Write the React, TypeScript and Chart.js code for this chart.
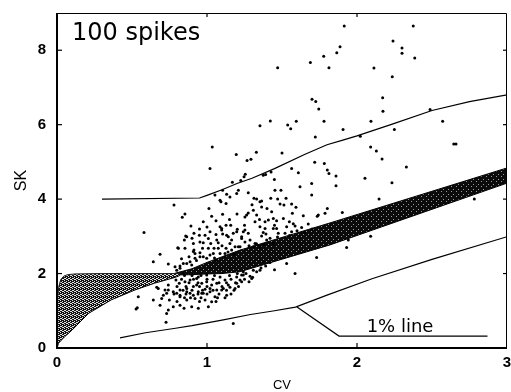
import React, { useEffect, useRef } from "react";
import { Chart, registerables } from "chart.js";
Chart.register(...registerables);

const xTickValues = [0, 1, 2, 3];
const yTickValues = [0, 2, 4, 6, 8];
const panelLabel = "100 spikes";
const lineLabel = "1% line";
const xTitle = "CV";
const yTitle = "SK";

// CV, SK of each simulated spike train
const spikePoints: [number, number][] = [
  [1.915,8.65],[2.375,8.65],[2.24,8.25],[2.30,8.06],[2.30,7.92],[2.385,7.79],[1.887,8.09],[1.865,7.93],[1.778,7.84],[1.689,7.67],
  [1.813,7.53],[1.471,7.53],[2.113,7.52],[2.235,7.29],[2.171,6.72],[1.70,6.68],[1.725,6.62],[1.745,6.42],[2.173,6.36],[2.487,6.41],
  [2.571,6.09],[1.422,6.10],[1.353,5.97],[1.538,5.99],[1.558,5.89],[1.595,6.09],[1.78,6.09],[2.093,6.09],[1.907,5.87],[1.722,5.67],
  [2.022,5.69],[2.249,5.87],[2.645,5.48],[2.66,5.48],[2.091,5.40],[2.129,5.29],[2.167,5.08],[2.329,4.86],[2.233,4.44],[2.053,4.56],
  [1.50,5.24],[1.329,5.26],[1.293,5.07],[1.718,4.99],[1.782,4.96],[1.802,4.78],[1.813,4.69],[1.86,4.62],[1.86,4.36],[1.564,4.82],
  [1.609,4.71],[1.698,4.42],[1.698,4.11],[1.62,4.33],[1.449,4.53],[1.375,4.64],[1.391,4.66],[1.427,4.73],[1.453,4.24],[1.493,4.24],
  [1.313,4.02],[1.425,4.02],[1.471,4.0],[1.527,4.02],[2.147,4.0],[2.782,4.0],
  [1.035,5.40],[1.02,4.82],[1.195,5.20],[1.267,5.04],[1.255,4.67],[1.247,4.60],[1.225,4.50],[1.169,4.45],[1.209,4.24],[1.275,4.17],
  [1.198,4.15],[1.131,4.13],[1.053,4.11],[1.331,4.0],[1.364,3.95],[1.104,4.24],[1.087,3.97],[1.153,4.06],
  [0.78,3.84],[1.013,3.75],[1.093,3.93],[1.127,3.88],[0.853,3.60],[0.835,3.51],[1.031,3.54],[1.104,3.59],[1.06,3.42],[0.975,3.39],
  [1.127,3.30],[1.087,3.26],[1.158,3.30],[0.893,3.28],[1.098,3.17],[0.58,3.10],[0.913,3.08],[0.858,3.01],[0.949,3.03],[1.009,2.94],
  [0.975,2.83],[0.909,2.81],[0.849,2.90],[0.805,2.69],[0.853,2.68],[0.913,2.63],[0.953,2.56],[0.92,2.54],[1.025,2.81],[1.047,2.68],
  [1.075,2.83],[1.104,3.06],[1.142,2.99],[1.175,3.08],[1.202,3.19],[1.153,2.81],[1.187,2.72],[1.127,2.68],[0.687,2.52],[0.642,2.32],
  [0.742,2.26],[0.82,2.20],[0.865,2.27],[0.887,2.32],[0.92,2.41],[0.975,2.45],[1.02,2.50],[1.087,2.54],[0.798,2.09],[0.842,2.0],
  [0.793,1.83],[0.815,1.74],[0.853,1.78],[0.887,1.83],[0.931,1.87],[0.965,1.74],[0.998,1.78],[1.031,1.69],[0.909,1.65],[0.865,1.60],
  [0.82,1.56],[0.775,1.51],[0.72,1.56],[0.665,1.63],[0.942,1.51],[0.987,1.58],[1.065,1.56],[1.109,1.60],[1.153,1.63],[1.198,1.74],
  [1.202,2.00],[1.087,1.91],[1.12,1.83],
  [0.542,1.38],[0.535,1.08],[0.527,1.05],[0.642,1.29],[0.698,1.33],[0.687,1.15],[0.731,1.47],[0.749,1.29],[0.742,1.02],[0.731,0.93],
  [0.727,0.69],[0.775,1.11],[0.82,1.15],[0.847,1.07],[0.898,1.11],[0.942,1.07],[1.009,1.11],[0.865,1.29],[0.92,1.33],[0.987,1.29],
  [1.031,1.24],[0.82,1.38],[0.798,1.47],[0.887,1.47],[0.965,1.47],[1.02,1.51],[0.675,1.60],[1.175,0.66],
  [1.353,3.93],[1.364,3.79],[1.487,3.87],[1.513,3.84],[1.564,3.87],[1.593,3.78],[1.802,3.75],[1.787,3.62],[1.735,3.54],[1.642,3.55],
  [1.569,3.62],[1.309,3.70],[1.264,3.57],[1.253,3.52],[1.275,3.63],[1.331,3.57],[1.431,3.66],[1.442,3.48],[1.409,3.44],[1.387,3.39],
  [1.464,3.42],[1.32,3.39],[1.509,3.48],[1.549,3.39],[1.575,3.34],[1.587,3.28],[1.531,3.26],[1.675,3.33],[1.631,3.24],[1.442,3.21],
  [1.464,3.21],[1.387,3.21],[1.353,3.26],[1.242,3.12],[1.275,3.08],[1.375,3.10],[1.393,3.06],[1.364,3.01],[1.475,3.08],[1.52,3.08],
  [1.564,3.12],[1.287,2.90],[1.32,2.81],[1.253,2.85],[1.398,2.90],[1.442,2.81],[1.353,2.72],[1.309,2.72],[1.22,2.72],[1.231,2.99],
  [1.731,2.43],[1.531,2.27],[1.587,2.0],[1.375,2.32],[1.309,2.09],[1.331,2.05],[1.242,2.05],[1.231,1.96],[1.298,1.87],[1.22,1.83],
  [1.902,3.64],[2.091,3.00],[1.942,2.90],[1.931,2.70],[1.742,3.57],[1.391,2.20],[1.353,2.09],[1.304,1.90],[1.287,1.93],
  [0.865,2.99],[0.809,2.68],[0.909,2.59],[0.953,2.85],[0.987,3.03],[1.02,3.12],[1.065,2.90],[1.098,3.21],[1.131,3.03],[1.164,2.90],
  [1.198,3.12],[1.231,2.94],[1.253,3.17],[1.009,2.68],[1.042,2.54],[1.075,2.68],[1.12,2.54],[1.164,2.63],[1.209,2.72],[0.953,2.45],
  [0.998,2.41],[0.842,2.27],[0.787,2.18],[0.82,2.14],[0.898,2.23],[0.931,1.69],[1.02,1.60],[1.065,1.74],[1.098,1.56],[1.142,1.69],
  [1.187,1.60],[1.231,1.78],[0.865,1.51],[0.909,1.42],[0.975,1.47],[1.053,1.38],[1.131,1.42],[0.82,1.42],[0.742,1.56],[0.709,1.42],
  [0.742,1.69],[0.942,1.91],[0.998,1.96],[1.198,1.91],[1.242,1.96],
  [0.85,1.95],[0.9,1.95],[0.96,1.95],[1.05,1.95],[1.15,1.95],[0.83,1.85],[0.91,1.85],[1.0,1.85],[1.04,1.85],[1.16,1.85],
  [1.25,1.85],[0.88,1.75],[0.94,1.75],[1.08,1.75],[1.13,1.75],[1.19,1.75],[0.8,1.65],[0.86,1.65],[0.95,1.65],[1.0,1.65],
  [1.1,1.65],[1.21,1.65],[0.84,1.55],[0.9,1.55],[0.97,1.55],[1.04,1.55],[1.13,1.55],[1.18,1.55],[0.78,1.45],[0.86,1.45],
  [0.94,1.45],[1.0,1.45],[1.08,1.45],[1.16,1.45],[0.85,1.35],[0.89,1.35],[0.96,1.35],[1.07,1.35],[1.12,1.35],[0.8,1.25],
  [0.95,1.25],[1.06,1.25],
  [1.05,2.42],[1.12,2.45],[1.18,2.52],[1.28,2.75],[1.33,2.8],[1.38,2.78],[1.42,2.95],[1.47,2.98],[1.55,3.02],[1.6,3.15],
  [1.65,3.1],[1.7,3.2],[1.45,3.3],[1.35,3.45],[1.25,3.3],[1.15,3.45],[1.2,3.6],[1.3,3.85],[1.4,3.75],[1.0,3.25],
  [0.95,3.2],[1.06,3.05],[0.9,2.95],[0.97,2.68],[1.1,2.75],[1.14,2.58],[0.88,2.45],[0.83,2.4],[0.93,2.35],[1.06,2.36],
  [1.36,2.15],[1.45,2.1],[1.28,1.78],[1.26,2.0],[1.42,2.3]
];

// shaded gamma region (left)
const gammaTop: [number, number][] = [
  [0,0],[0.002,0.8],[0.006,1.35],[0.012,1.65],[0.025,1.84],[0.045,1.93],[0.07,1.97],[0.12,1.99],[0.3,2.0],[0.82,2.0]
];
const gammaBottom: [number, number][] = [
  [0,0],[0.01,0.13],[0.05,0.3],[0.1,0.48],[0.21,0.93],[0.36,1.29],[0.52,1.56],[0.65,1.74],[0.79,1.9],[0.82,1.95]
];
// dark band
const bandTop: [number, number][] = [
  [0.78,2.0],[0.9,2.13],[1.0,2.3],[1.22,2.63],[1.82,3.36],[3.05,4.9]
];
const bandBottom: [number, number][] = [
  [0.78,1.96],[0.9,1.97],[1.0,1.99],[1.1,2.0],[1.22,2.05],[1.82,2.77],[3.05,4.5]
];
// 99% and 1% lines
const upperLine: [number, number][] = [
  [0.3,4.0],[0.95,4.03],[1.0,4.1],[1.1,4.25],[1.2,4.42],[1.3,4.56],[1.45,4.82],[1.65,5.2],[1.8,5.46],[1.9,5.58],
  [2.0,5.7],[2.24,6.02],[2.5,6.38],[2.75,6.62],[3.0,6.8]
];
const lowerLine: [number, number][] = [
  [0.42,0.27],[0.59,0.41],[0.79,0.53],[0.9,0.6],[1.1,0.75],[1.29,0.9],[1.45,1.0],[1.59,1.1],[1.8,1.42],[2.1,1.86],
  [2.5,2.38],[3.0,2.99]
];
const pointerLine: [number, number][] = [[1.6,1.1],[1.88,0.32],[2.87,0.32]];

const toXY = (a: [number, number][]) => a.map(([x, y]) => ({ x, y }));

function makePattern(size: number, base: string, dot: string, cells: number[][]) {
  const c = document.createElement("canvas");
  c.width = size; c.height = size;
  const g = c.getContext("2d")!;
  g.fillStyle = base; g.fillRect(0, 0, size, size);
  g.fillStyle = dot;
  cells.forEach(([a, b]) => g.fillRect(a, b, 1, 1));
  return g.createPattern(c, "repeat")!;
}

const FONT = '"Liberation Sans", Arial, Helvetica, sans-serif';
const LABEL_FONT = '"DejaVu Sans", Verdana, sans-serif';

const framePlugin = {
  id: "frame",
  afterDatasetsDraw(chart: any) {
    const { ctx, chartArea, scales } = chart;
    const { left, right, top, bottom } = chartArea;
    const x = scales.x, y = scales.y;
    ctx.save();
    ctx.strokeStyle = "#000";
    ctx.lineWidth = 2;
    ctx.beginPath();
    ctx.moveTo(left, top); ctx.lineTo(left, bottom); ctx.lineTo(right, bottom);
    ctx.stroke();
    ctx.lineWidth = 1;
    ctx.beginPath();
    ctx.moveTo(left, top + 0.5); ctx.lineTo(right - 0.5, top + 0.5); ctx.lineTo(right - 0.5, bottom);
    ctx.stroke();
    ctx.lineWidth = 1.2;
    x.ticks.forEach((t: any) => {
      const px = x.getPixelForValue(t.value);
      if (px <= left + 1 || px >= right - 3) return;
      ctx.beginPath(); ctx.moveTo(px, bottom); ctx.lineTo(px, bottom - 5); ctx.stroke();
      ctx.beginPath(); ctx.moveTo(px, top); ctx.lineTo(px, top + 4); ctx.stroke();
    });
    y.ticks.forEach((t: any) => {
      const py = y.getPixelForValue(t.value);
      if (py >= bottom - 1 || py <= top + 1) return;
      ctx.beginPath(); ctx.moveTo(left, py); ctx.lineTo(left + 5, py); ctx.stroke();
      ctx.beginPath(); ctx.moveTo(right, py); ctx.lineTo(right - 4, py); ctx.stroke();
    });
    ctx.fillStyle = "#000";
    ctx.textBaseline = "alphabetic";
    ctx.textAlign = "left";
    ctx.font = `24px ${LABEL_FONT}`;
    ctx.fillText(panelLabel, x.getPixelForValue(0.1), y.getPixelForValue(8.28));
    ctx.textAlign = "center";
    ctx.font = `18px ${LABEL_FONT}`;
    ctx.fillText(lineLabel, x.getPixelForValue(2.287), y.getPixelForValue(0.44));
    ctx.restore();
  },
};

export default function App() {
  const ref = useRef<HTMLCanvasElement>(null);
  useEffect(() => {
    document.body.style.margin = "0";
    const canvas = ref.current!;
    const gammaFill = makePattern(4, "#111", "#e0e0e0", [[0,0],[2,1],[1,2],[3,3],[2,3],[0,2]]);
    const bandFill = makePattern(5, "#0b0b0b", "#9a9a9a", [[1,1],[3,4]]);
    const lineStyle = { type: "line" as const, pointRadius: 0, borderColor: "#000", borderWidth: 1.2, fill: false, tension: 0 };
    const chart = new Chart(canvas, {
      type: "scatter",
      data: {
        datasets: [
          { type: "scatter", data: toXY(spikePoints), pointRadius: 1.5, pointBorderWidth: 0, backgroundColor: "#000", borderColor: "#000" } as any,
          { ...lineStyle, data: toXY(gammaTop), borderWidth: 1, borderColor: "#222" },
          { ...lineStyle, data: toXY(gammaBottom), borderWidth: 1, borderColor: "#000", fill: "-1", backgroundColor: gammaFill },
          { ...lineStyle, data: toXY(bandTop), borderWidth: 1, borderColor: "#000" },
          { ...lineStyle, data: toXY(bandBottom), borderWidth: 1, borderColor: "#000", fill: "-1", backgroundColor: bandFill },
          { ...lineStyle, data: toXY(upperLine) },
          { ...lineStyle, data: toXY(lowerLine) },
          { ...lineStyle, data: toXY(pointerLine) },
        ],
      },
      options: {
        animation: false,
        responsive: false,
        layout: { padding: { left: 0, right: 2, top: 13, bottom: 0 } },
        plugins: { legend: { display: false }, tooltip: { enabled: false } },
        scales: {
          x: {
            type: "linear", min: 0, max: 3,
            afterBuildTicks: (s: any) => { s.ticks = xTickValues.map((v) => ({ value: v })); },
            grid: { display: false, drawTicks: false },
            border: { display: false },
            ticks: { color: "#000", padding: 6, maxRotation: 0, autoSkip: false, font: { family: FONT, size: 15, weight: "bold" } },
            title: { display: true, text: xTitle, color: "#000", padding: { top: 0, bottom: 0 }, font: { family: FONT, size: 13, lineHeight: 1 } },
            afterFit: (s: any) => { s.height = 44; s.paddingLeft = 0; s.paddingRight = 0; },
          },
          y: {
            type: "linear", min: 0, max: 9,
            afterBuildTicks: (s: any) => { s.ticks = yTickValues.map((v) => ({ value: v })); },
            grid: { display: false, drawTicks: false },
            border: { display: false },
            ticks: { color: "#000", padding: 11, font: { family: FONT, size: 15, weight: "bold" } },
            title: { display: true, text: yTitle, color: "#000", padding: { top: 12, bottom: 0 }, font: { family: FONT, size: 16, lineHeight: 1.2 } },
            afterFit: (s: any) => { s.width = 57; s.paddingTop = 0; s.paddingBottom = 0; },
          },
        },
      } as any,
      plugins: [framePlugin],
    });
    return () => chart.destroy();
  }, []);
  return (
    <div style={{ width: 511, height: 392 }}>
      <canvas ref={ref} width={511} height={392} />
    </div>
  );
}
